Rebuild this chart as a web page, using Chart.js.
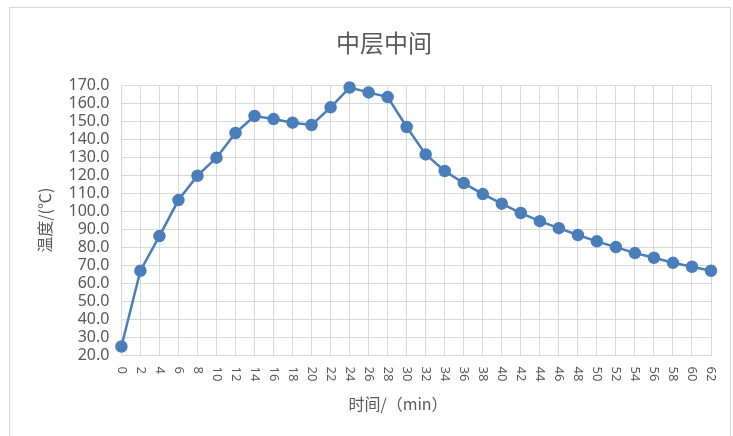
<!DOCTYPE html>
<html>
<head>
<meta charset="utf-8">
<script src="https://cdn.jsdelivr.net/npm/chart.js@4.4.0/dist/chart.umd.min.js"></script>
<style>
  body { margin: 0; background: #fff; }
  #frame { position: absolute; left: 9px; top: 7px; width: 720px; height: 440px; border: 1px solid #d9d9d9; }
  #chart { position: absolute; left: 0; top: 0; }
</style>
</head>
<body>
<div id="frame"></div>
<canvas id="chart" width="733" height="436"></canvas>
<script>
const minutes = ['0','2','4','6','8','10','12','14','16','18','20','22','24','26','28','30',
                 '32','34','36','38','40','42','44','46','48','50','52','54','56','58','60','62']
const temps = [25.0, 67.0, 86.2, 106.2, 119.7, 129.7, 143.4, 152.8, 151.1, 149.1, 147.8, 157.6,
               168.6, 165.9, 163.3, 146.7, 131.5, 122.3, 115.6, 109.5, 104.2, 99.0, 94.5, 90.6,
               86.8, 83.3, 80.1, 76.8, 74.2, 71.4, 69.2, 67.0]
const chartTitle = '中层中间'
const yTitle = '温度/(℃)'
const xTitle = '时间/（min）'

const textColor = '#595959'
const gridColor = '#d9d9d9'
const cjk = '"Noto Sans CJK SC", "Noto Sans", sans-serif'

// the Excel original puts the titles a bit off-centre and the x labels read
// top-to-bottom, so these bits are drawn by hand on top of the chart
const extraText = {
    id: 'extraText',
    afterDraw(chart) {
        const x = chart.scales.x
        const ctx = chart.ctx
        ctx.save()
        ctx.fillStyle = textColor
        ctx.textBaseline = 'middle'

        ctx.font = '13px "Noto Sans", sans-serif'
        ctx.textAlign = 'left'
        x.ticks.forEach((t, i) => {
            ctx.save()
            ctx.translate(x.getPixelForTick(i), x.bottom + 11)
            ctx.rotate(Math.PI / 2)
            ctx.fillText(minutes[i], 0, 0)
            ctx.restore()
        })

        ctx.textAlign = 'center'
        ctx.font = '24px ' + cjk
        ctx.fillText(chartTitle, 384, 43)
        ctx.font = '16px ' + cjk
        ctx.fillText(xTitle, 398, 404)
        ctx.restore()
    }
}

new Chart(document.getElementById('chart'), {
    type: 'line',
    data: {
        labels: minutes,
        datasets: [{
            data: temps,
            borderColor: '#4a7ebb',
            backgroundColor: '#4a7ebb',
            borderWidth: 2.5,
            pointRadius: 5,
            pointHoverRadius: 5,
            tension: 0,
            clip: false
        }]
    },
    options: {
        responsive: false,
        animation: false,
        devicePixelRatio: 1,
        layout: { padding: { left: 10, right: 22, top: 85, bottom: 80.5 } },
        plugins: {
            legend: { display: false },
            tooltip: { enabled: false },
            title: { display: false }
        },
        scales: {
            x: {
                offset: false,
                grid: { color: gridColor, drawTicks: false },
                border: { color: gridColor },
                ticks: { display: false, autoSkip: false }
            },
            y: {
                min: 20,
                max: 170,
                grid: { color: gridColor, drawTicks: false },
                border: { color: gridColor },
                ticks: {
                    stepSize: 10,
                    autoSkip: false,
                    color: textColor,
                    font: { family: '"Noto Sans", sans-serif', size: 16 },
                    padding: 12,
                    callback: v => v.toFixed(1)
                },
                title: {
                    display: true,
                    text: yTitle,
                    color: textColor,
                    font: { family: cjk, size: 16, lineHeight: 1.2 },
                    padding: { top: 25, bottom: 2.3 }
                }
            }
        }
    },
    plugins: [extraText]
})
</script>
</body>
</html>
